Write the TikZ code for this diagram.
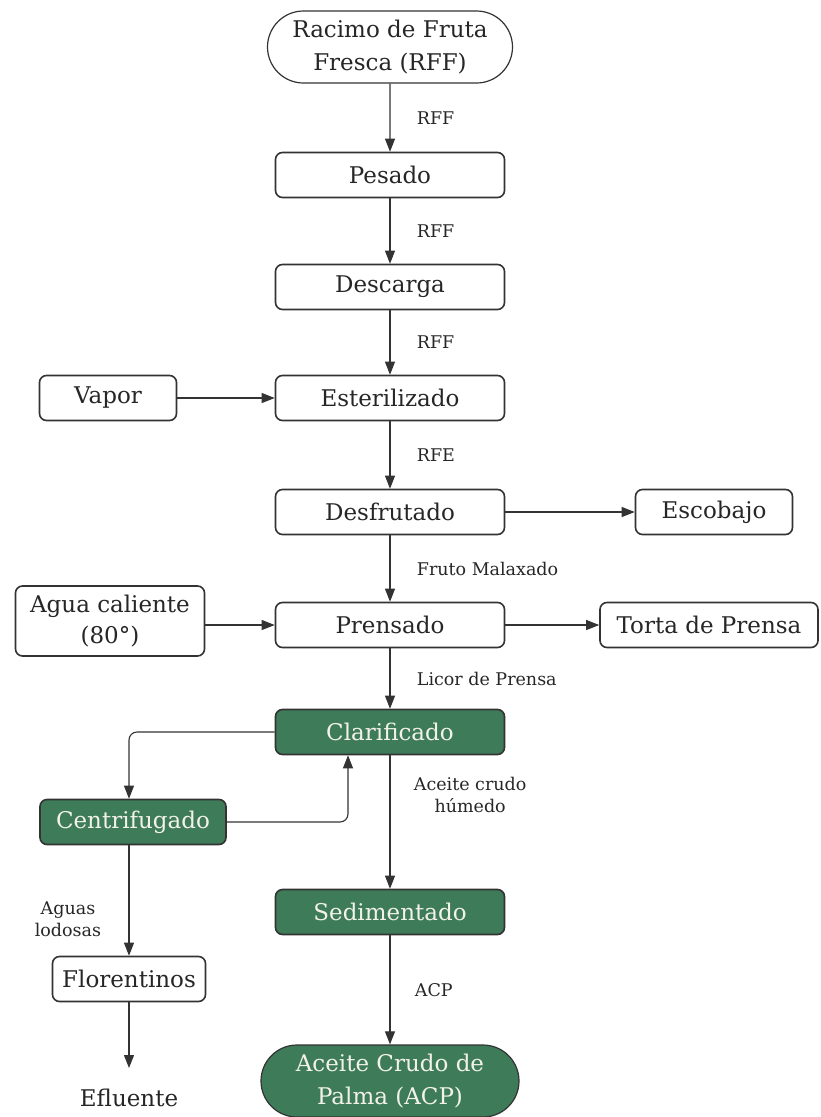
\documentclass[tikz,border=0pt]{standalone}
\usepackage{fontspec}
\setmainfont{DejaVu Serif}
\usetikzlibrary{arrows.meta,shapes.misc}
\definecolor{gr}{HTML}{3E7B59}
\definecolor{ln}{HTML}{333333}
\definecolor{lt}{HTML}{F2F2EA}
\tikzset{
  box/.style={draw=ln,line width=1.6pt,rounded corners=7pt,fill=white,minimum height=45pt,text=black!85,font=\fontsize{23}{31}\selectfont,inner sep=0pt},
  gbox/.style={box,fill=gr,text=lt},
  pill/.style={draw=ln,line width=1.2pt,rounded rectangle,fill=white,text=black!85,font=\fontsize{23}{33}\selectfont,align=center,inner sep=0pt},
  arr/.style={draw=ln,line width=1.1pt,-{Triangle[length=13pt,width=10pt]}},
  lab/.style={font=\fontsize{17.5}{22}\selectfont,text=black!85,align=center},
}
\begin{document}
\begin{tikzpicture}[x=1pt,y=-1pt]
\useasboundingbox (0,0) rectangle (820,1117);
\node[pill,minimum width=245pt,minimum height=72pt] (rac) at (390,47) {Racimo de Fruta\\Fresca (RFF)};
\node[box,minimum width=229pt] (pes) at (390,175) {Pesado};
\node[box,minimum width=229pt] (des) at (390,287) {Descarga};
\node[box,minimum width=229pt] (est) at (390,398) {Esterilizado};
\node[box,minimum width=137pt] (vap) at (108,398) {Vapor};
\node[box,minimum width=229pt] (dfr) at (390,512) {Desfrutado};
\node[box,minimum width=157pt] (esc) at (714,512) {Escobajo};
\node[box,minimum width=229pt] (pre) at (390,625) {Prensado};
\node[box,minimum width=189pt,minimum height=70pt,align=center] (agu) at (110,621) {Agua caliente\\(80°)};
\node[box,minimum width=218pt] (tor) at (709,625) {Torta de Prensa};
\node[gbox,minimum width=229pt] (cla) at (390,732) {Clarificado};
\node[gbox,minimum width=186pt] (cen) at (133,822) {Centrifugado};
\node[gbox,minimum width=229pt] (sed) at (390,912) {Sedimentado};
\node[box,minimum width=153pt] (flo) at (129,979) {Florentinos};
\node[pill,fill=gr,text=lt,minimum width=258pt,minimum height=72pt] (acp) at (390,1081) {Aceite Crudo de\\Palma (ACP)};
\node[font=\fontsize{23}{28}\selectfont,text=black!85] (efl) at (129,1098) {Efluente};
\coordinate (eflt) at (129,1068);

\draw[arr] (rac) -- (pes) node[lab,pos=0.5,anchor=west,xshift=23pt] {RFF};
\draw[arr] (pes) -- (des) node[lab,pos=0.5,anchor=west,xshift=23pt] {RFF};
\draw[arr] (des) -- (est) node[lab,pos=0.5,anchor=west,xshift=23pt] {RFF};
\draw[arr] (est) -- (dfr) node[lab,pos=0.5,anchor=west,xshift=23pt] {RFE};
\draw[arr] (vap) -- (est);
\draw[arr] (dfr) -- (esc);
\draw[arr] (dfr) -- (pre) node[lab,pos=0.5,anchor=west,xshift=23pt] {Fruto Malaxado};
\draw[arr] (agu.east |- pre) -- (pre);
\draw[arr] (pre) -- (tor);
\draw[arr] (pre) -- (cla) node[lab,pos=0.5,anchor=west,xshift=23pt] {Licor de Prensa};
\draw[arr,rounded corners=8pt] (cla.west) -| (cen.north -| 129,0);
\draw[arr,rounded corners=8pt] (cen.east) -| ([xshift=-42pt]cla.south);
\draw[arr] (cla) -- (sed) node[lab,pos=0.3,anchor=west,xshift=20pt] {Aceite crudo\\húmedo};
\draw[arr] (sed) -- (acp) node[lab,pos=0.5,anchor=west,xshift=21pt] {ACP};
\draw[arr] (cen.south -| flo) -- (flo) node[lab,pos=0.67,anchor=east,xshift=-24pt] {Aguas\\lodosas};
\draw[arr] (flo) -- (eflt);
\end{tikzpicture}
\end{document}
